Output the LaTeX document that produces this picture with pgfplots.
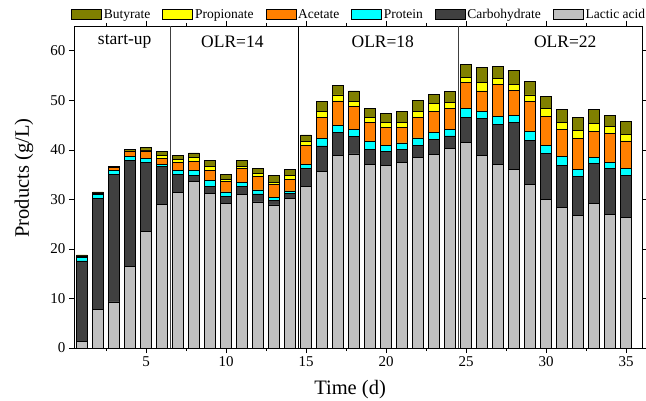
\documentclass[border=0pt]{standalone}
\usepackage{pgfplots}
\pgfplotsset{compat=1.18}
\usepackage{pgfplotstable}
\usepackage{fontspec}
\setmainfont{Liberation Serif}
\definecolor{cBut}{RGB}{128,128,0}
\definecolor{cPro}{RGB}{255,255,0}
\definecolor{cAce}{RGB}{255,128,0}
\definecolor{cPrt}{RGB}{0,255,255}
\definecolor{cCar}{RGB}{64,64,64}
\definecolor{cLac}{RGB}{192,192,192}
\pgfplotstableread{
x lac car prt ace pro but
1 1.4 16.2 0.7 0.2 0.1 0.2
2 7.8 22.4 0.8 0.3 0.1 0.1
3 9.3 25.8 0.8 0.5 0.1 0.2
4 16.4 21.4 0.8 1.1 0.1 0.3
5 23.6 13.8 0.8 1.6 0.2 0.5
6 29.0 7.6 0.5 1.2 0.6 0.8
7 31.4 3.7 0.8 1.5 0.6 0.8
8 33.7 1.2 1.0 1.7 0.9 0.9
9 31.2 1.5 1.1 2.0 0.9 1.1
10 29.2 1.4 0.9 2.1 0.4 1.1
11 31.0 1.6 0.9 2.7 0.5 1.1
12 29.5 1.6 0.8 2.8 0.5 1.0
13 28.9 0.9 0.6 2.6 0.5 1.4
14 30.2 1.0 0.5 2.4 0.7 1.2
15 32.7 3.6 0.8 3.8 0.8 1.3
16 35.6 5.2 1.5 4.2 1.3 1.9
17 38.8 4.7 1.4 5.0 1.2 1.9
18 39.2 3.5 1.4 4.6 1.1 2.1
19 37.0 3.1 1.6 3.9 1.0 1.7
20 36.8 2.9 1.2 3.6 1.0 1.9
21 37.5 2.6 1.3 3.2 0.9 2.2
22 38.5 2.4 1.5 4.2 1.2 2.2
23 39.1 3.0 1.5 4.2 1.5 1.9
24 40.3 2.5 1.4 4.2 1.1 2.3
25 41.5 5.1 1.7 5.3 1.1 2.6
26 38.8 7.5 1.5 4.1 1.7 3.1
27 37.0 8.2 1.6 6.4 1.2 2.4
28 36.0 9.6 1.4 5.0 1.2 2.8
29 33.1 8.8 1.8 6.1 1.3 2.7
30 30.0 9.3 1.6 5.9 1.6 2.4
31 28.4 8.5 1.7 5.6 1.4 2.6
32 26.8 7.9 1.4 6.2 1.6 2.7
33 29.2 8.0 1.3 5.3 1.6 2.8
34 27.0 9.2 1.2 5.9 1.4 2.3
35 26.4 8.5 1.4 5.5 1.3 2.7
}\data
\begin{document}
\begin{tikzpicture}
\begin{axis}[
  name=ax,
  scale only axis,
  width=568bp, height=322bp,
  ybar stacked, bar width=0.68,
  xmin=0.5, xmax=36, ymin=0, ymax=65,
  xtick={5,10,...,35}, minor xtick={2.5,7.5,...,35},
  ytick={0,10,...,60},
  tick pos=both, tick align=outside,
  xticklabel pos=lower, yticklabel pos=left,
  major tick length=5bp, minor tick length=3bp,
  every tick/.style={black, line width=0.6bp},
  axis line style={line width=0.8bp},
  /pgf/number format/assume math mode=true,
  tick label style={font=\fontsize{15bp}{17bp}\selectfont},
  xlabel={Time (d)}, ylabel={Products (g/L)},
  label style={font=\fontsize{20.5bp}{23bp}\selectfont},
  xlabel style={at={(axis description cs:0.486,-0.13)}, anchor=center},
  ylabel style={at={(axis description cs:-0.088,0.528)}, anchor=center},
  every axis plot/.append style={draw=black, line width=0.6bp},
  legend columns=6, reverse legend,
  legend style={at={(axis description cs:-0.005,1.012)}, anchor=south west,
    draw=none, fill=none, inner sep=0pt,
    font=\fontsize{13.5bp}{15bp}\selectfont,
    /tikz/every even column/.append style={column sep=10bp}},
  legend image code/.code={\draw[#1] (0bp,-5bp) rectangle (30bp,5bp);},
]
\addplot[fill=cLac] table[x=x,y=lac]{\data};
\addplot[fill=cCar] table[x=x,y=car]{\data};
\addplot[fill=cPrt] table[x=x,y=prt]{\data};
\addplot[fill=cAce] table[x=x,y=ace]{\data};
\addplot[fill=cPro] table[x=x,y=pro]{\data};
\addplot[fill=cBut] table[x=x,y=but]{\data};
\legend{Lactic acid,Carbohydrate,Protein,Acetate,Propionate,Butyrate}
\draw[black!75, line width=0.8bp] (axis cs:6.5,0) -- (axis cs:6.5,65);
\draw[black, line width=0.8bp] (axis cs:14.5,0) -- (axis cs:14.5,65);
\draw[black!75, line width=0.8bp] (axis cs:24.5,0) -- (axis cs:24.5,65);
\node[font=\fontsize{17.5bp}{19bp}\selectfont] at (axis cs:3.67,61.8) {start-up};
\node[font=\fontsize{17.5bp}{19bp}\selectfont] at (axis cs:10.4,61.8) {OLR=14};
\node[font=\fontsize{17.5bp}{19bp}\selectfont] at (axis cs:19.8,61.8) {OLR=18};
\node[font=\fontsize{17.5bp}{19bp}\selectfont] at (axis cs:31.2,61.8) {OLR=22};
\end{axis}
\pgfresetboundingbox
\path ([shift={(-74bp,-53bp)}]ax.south west) rectangle ([shift={(4bp,26bp)}]ax.north east);
\end{tikzpicture}
\end{document}
